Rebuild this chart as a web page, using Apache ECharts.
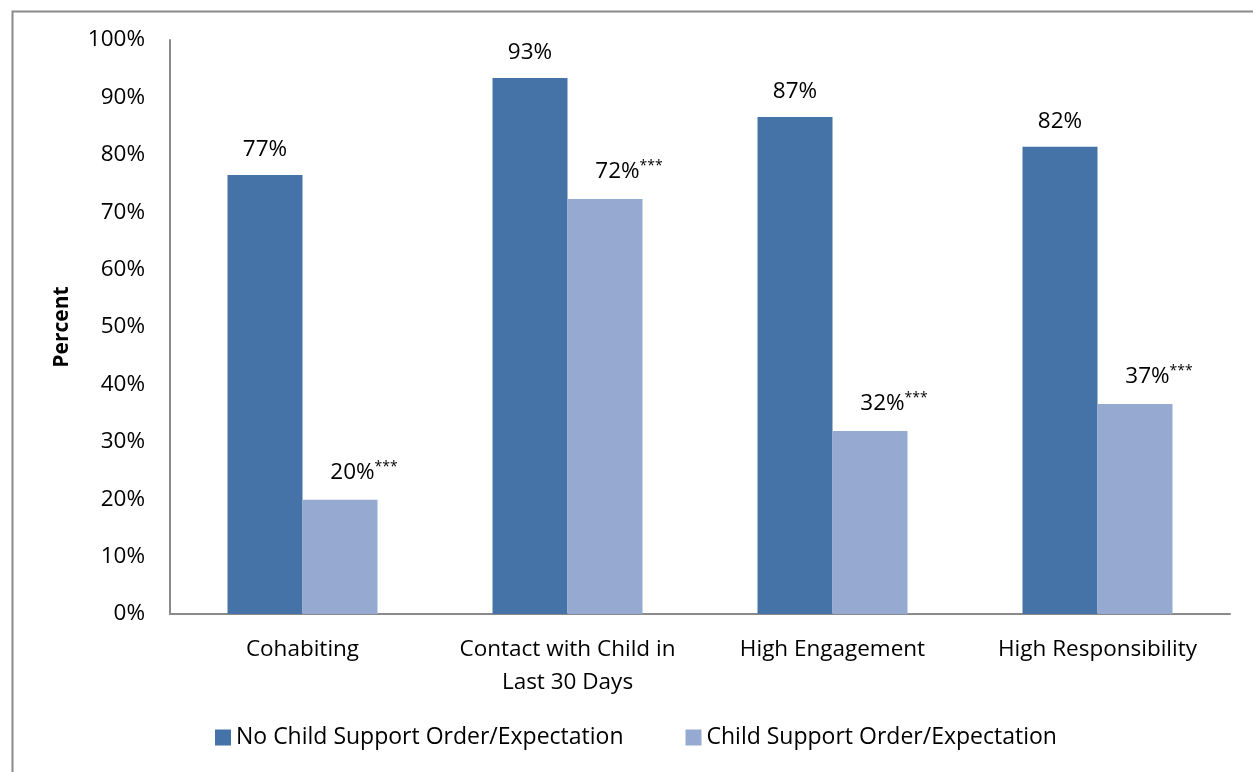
<!DOCTYPE html>
<html><head><meta charset="utf-8">
<script src="https://cdn.jsdelivr.net/npm/echarts@6/dist/echarts.min.js"></script>
<style>html,body{margin:0;padding:0;background:#fff}#c{width:1253px;height:772px}</style>
</head><body><div id="c"></div>
<script>
const categories = ['Cohabiting', 'Contact with Child in\nLast 30 Days', 'High Engagement', 'High Responsibility'];
const seriesNames = ['No Child Support Order/Expectation', 'Child Support Order/Expectation'];
const noOrder = [76.5, 93.4, 86.6, 81.4];
const noOrderLabels = ['77%', '93%', '87%', '82%'];
const withOrder = [19.9, 72.3, 31.9, 36.6];
const withOrderLabels = ['20%', '72%', '32%', '37%'];
const yTicks = [0, 10, 20, 30, 40, 50, 60, 70, 80, 90, 100];

const FONT = '"Open Sans", "Liberation Sans", sans-serif';
const FS = 22.5;
const chart = echarts.init(document.getElementById('c'), null, {renderer: 'canvas'});
chart.setOption({
  animation: false,
  backgroundColor: '#fff',
  textStyle: {fontFamily: FONT},
  graphic: [{
    type: 'rect', silent: true,
    shape: {x: 12.5, y: 11.5, width: 1300, height: 800},
    style: {fill: 'none', stroke: '#8a8a8a', lineWidth: 2}
  }],
  grid: {left: 170, right: 23, top: 40, bottom: 158, containLabel: false},
  legend: {
    bottom: 18, left: 210,
    itemWidth: 16, itemHeight: 16, itemGap: 62,
    icon: 'rect',
    textStyle: {fontSize: 23, color: '#000', fontFamily: FONT},
    data: seriesNames
  },
  xAxis: {
    type: 'category', data: categories,
    axisLine: {lineStyle: {color: '#8a8a8a', width: 2}},
    axisTick: {show: false},
    axisLabel: {fontSize: FS, color: '#000', margin: 19, lineHeight: 33, fontFamily: FONT, interval: 0}
  },
  yAxis: {
    type: 'value', min: yTicks[0], max: yTicks[yTicks.length - 1], interval: 10,
    name: 'Percent', nameLocation: 'middle', nameGap: 97,
    nameTextStyle: {fontSize: 21, fontWeight: 'bold', color: '#000', fontFamily: FONT},
    axisLine: {show: true, lineStyle: {color: '#8a8a8a', width: 2}},
    axisTick: {show: false},
    splitLine: {show: false},
    axisLabel: {fontSize: FS, color: '#000', margin: 25, formatter: v => v + '%', fontFamily: FONT}
  },
  series: [
    {
      name: seriesNames[0], type: 'bar', data: noOrder,
      barWidth: 75, barGap: '0%',
      itemStyle: {color: '#4673A7'},
      label: {show: true, position: 'top', distance: 14, fontSize: FS, color: '#000', fontFamily: FONT,
        formatter: p => noOrderLabels[p.dataIndex]}
    },
    {
      name: seriesNames[1], type: 'bar', data: withOrder,
      barWidth: 75, barGap: '0%',
      itemStyle: {color: '#96AAD1'},
      label: {show: true, position: 'top', distance: 14, offset: [24, 0], fontFamily: FONT,
        formatter: p => '{v|' + withOrderLabels[p.dataIndex] + '}{s|***}',
        rich: {
          v: {fontSize: FS, color: '#000', fontFamily: FONT},
          s: {fontSize: 14, color: '#000', fontFamily: FONT, verticalAlign: 'top', padding: [0, 0, 12, 0]}
        }}
    }
  ]
});
</script></body></html>
